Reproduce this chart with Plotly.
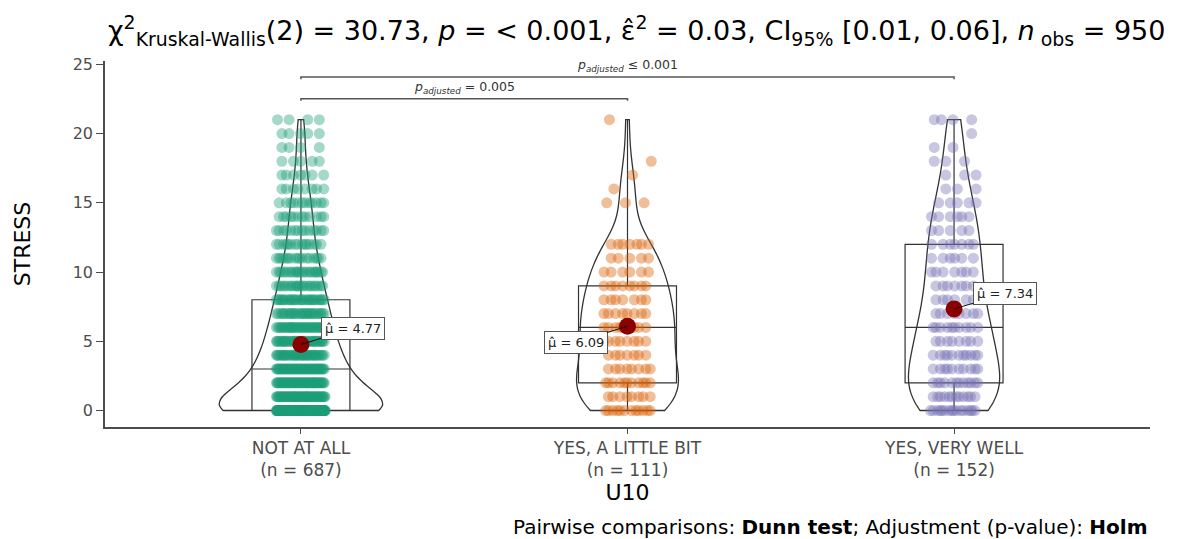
import numpy as np
import plotly.graph_objects as go

# ---------------- data ----------------
categories = ["NOT AT ALL", "YES, A LITTLE BIT", "YES, VERY WELL"]
group_n = [687, 111, 152]
stress_values = list(range(22))  # 0..21
counts_not_at_all = [195, 58, 56, 55, 40, 40, 35, 30, 30, 22, 23, 17, 15, 14, 12, 12, 8, 7, 5, 4, 5, 4]
counts_little_bit = [12, 8, 11, 8, 7, 8, 9, 8, 7, 8, 6, 5, 7, 0, 0, 3, 1, 1, 1, 0, 0, 1]
counts_very_well = [16, 12, 12, 10, 11, 8, 10, 8, 6, 7, 7, 6, 7, 5, 6, 5, 3, 3, 3, 2, 1, 4]
group_means = [4.77, 6.09, 7.34]
mean_labels = ["4.77", "6.09", "7.34"]
comparisons = [((1, 3), "≤ 0.001"), ((1, 2), "= 0.005")]
bracket_levels = [24.08, 22.52]
y_ticks = [0, 5, 10, 15, 20, 25]

point_rgba = ["rgba(27,158,119,0.4)", "rgba(217,95,2,0.4)", "rgba(117,112,179,0.4)"]
all_counts = [counts_not_at_all, counts_little_bit, counts_very_well]

FONT = "DejaVu Sans, Verdana, sans-serif"
# page body has an 8px margin; figure is sized to fill the rest of the window
W, H = 1172, 531
fig = go.Figure()


def bw_nrd0(y):
    y = np.asarray(y, float)
    sd = y.std(ddof=1)
    iqr = np.subtract(*np.percentile(y, [75, 25]))
    lo = min(sd, iqr / 1.34) if iqr > 0 else sd
    return 0.9 * lo * len(y) ** (-0.2)


def kde_max(y, bw):
    y = np.asarray(y, float)
    grid = np.linspace(y.min(), y.max(), 400)
    dens = np.exp(-0.5 * ((grid[:, None] - y[None, :]) / bw) ** 2).sum(1) / (len(y) * bw * np.sqrt(2 * np.pi))
    return dens.max()


datasets = [np.repeat(stress_values, c) for c in all_counts]
bws = [bw_nrd0(d) for d in datasets]
maxes = [kde_max(d, b) for d, b in zip(datasets, bws)]
gmax = max(maxes)

# jittered points (deterministic spread)
for g, counts in enumerate(all_counts):
    xs, ys = [], []
    for v, c in zip(stress_values, counts):
        for i in range(c):
            frac = (i * 0.6180339887 + v * 0.3819660113 + g * 0.11) % 1.0
            xs.append(g + 1 + (frac * 2 - 1) * 0.075)
            ys.append(v)
    fig.add_trace(go.Scatter(x=xs, y=ys, mode="markers",
                             marker=dict(size=11, color=point_rgba[g], line=dict(width=0)),
                             hoverinfo="skip", showlegend=False))

# boxes
for g, data in enumerate(datasets):
    fig.add_trace(go.Box(y=data, x0=g + 1, width=0.3, whiskerwidth=0, boxpoints=False,
                         quartilemethod="linear", fillcolor="rgba(0,0,0,0)",
                         line=dict(color="#333333", width=1.2), showlegend=False))

# violins (ggplot "area" scaling: width relative to the largest density)
for g, data in enumerate(datasets):
    fig.add_trace(go.Violin(y=data, x0=g + 1, width=0.5 * maxes[g] / gmax, spanmode="hard",
                            points=False, bandwidth=bws[g], scalemode="width",
                            fillcolor="rgba(0,0,0,0)", line=dict(color="#333333", width=1.3),
                            box_visible=False, meanline_visible=False, showlegend=False))

# means
fig.add_trace(go.Scatter(x=[1, 2, 3], y=group_means, mode="markers",
                         marker=dict(size=17, color="#8B0000"), showlegend=False))

annotations = []
offsets = [(52, -16), (-52, 16), (51, -15)]
for g in range(3):
    annotations.append(dict(x=g + 1, y=group_means[g], xref="x", yref="y",
                            text="μ̂ = " + mean_labels[g], showarrow=True,
                            ax=offsets[g][0], ay=offsets[g][1], arrowhead=0, arrowwidth=1,
                            arrowcolor="#111111", bgcolor="white", bordercolor="#555555",
                            borderwidth=1, borderpad=3,
                            font=dict(family=FONT, size=13, color="#222222")))

shapes = []
for ((a, b), lab), lvl in zip(comparisons, bracket_levels):
    tip = 0.15
    shapes.append(dict(type="path", xref="x", yref="y",
                       path=f"M {a},{lvl - tip} L {a},{lvl} L {b},{lvl} L {b},{lvl - tip}",
                       line=dict(color="#555555", width=1.5)))
    annotations.append(dict(x=(a + b) / 2, y=lvl, xref="x", yref="y", yanchor="bottom",
                            yshift=1, showarrow=False,
                            text="<i>p</i><sub><i>adjusted</i></sub> " + lab,
                            font=dict(family=FONT, size=12.5, color="#333333")))

# caption
annotations.append(dict(x=1, y=-112 / 366, xref="paper", yref="paper", xanchor="right",
                        yanchor="bottom", yshift=-2, showarrow=False,
                        text="Pairwise comparisons: <b>Dunn test</b>; Adjustment (p-value): <b>Holm</b>",
                        font=dict(family=FONT, size=20, color="#000000")))

ticktext = [f"{c}<br>(n = {n})" for c, n in zip(categories, group_n)]

fig.update_layout(
    width=W, height=H,
    margin=dict(l=97, r=30, t=53, b=112, autoexpand=False),
    paper_bgcolor="white", plot_bgcolor="white",
    violinmode="overlay", boxmode="overlay",
    showlegend=False,
    title=dict(text="χ<sup>2</sup><sub>Kruskal-Wallis</sub>(2) = 30.73, <i>p</i> = < 0.001, "
                    "ε̂<sup>2</sup> = 0.03, CI<sub>95%</sub> [0.01, 0.06], <i>n</i><sub> obs</sub> = 950",
               x=100 / W, xanchor="left", xref="container", y=1 - 23 / H, yanchor="middle",
               yref="container", font=dict(family=FONT, size=27, color="#000000")),
    annotations=annotations, shapes=shapes,
    xaxis=dict(range=[0.4, 3.6], tickmode="array", tickvals=[1, 2, 3], ticktext=ticktext,
               showgrid=False, zeroline=False, showline=True, linecolor="#4D4D4D", linewidth=1.5,
               ticks="outside", ticklen=5, tickcolor="#4D4D4D", tickwidth=1.2, automargin=False,
               tickfont=dict(family=FONT, size=17, color="#4D4D4D"),
               title=dict(text="U10", font=dict(family=FONT, size=22, color="#000000"), standoff=4)),
    yaxis=dict(range=[-1.19, 25.24], tickmode="array", tickvals=y_ticks,
               showgrid=False, zeroline=False, showline=True, linecolor="#4D4D4D", linewidth=1.5,
               ticks="outside", ticklen=7, tickcolor="#4D4D4D", tickwidth=1.2, automargin=False,
               tickfont=dict(family=FONT, size=16, color="#4D4D4D"),
               title=dict(text="STRESS", font=dict(family=FONT, size=22, color="#000000"), standoff=36)),
)

fig.write_html("out.html")
